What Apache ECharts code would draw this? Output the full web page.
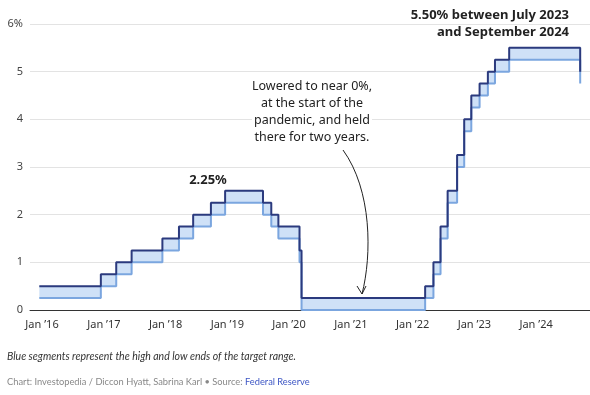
<!DOCTYPE html>
<html>
<head>
<meta charset="utf-8">
<script src="https://cdn.jsdelivr.net/npm/echarts@6/dist/echarts.min.js"></script>
<style>
html,body{margin:0;padding:0;background:#fff;}
#chart{width:590px;height:395px;}
</style>
</head>
<body>
<div id="chart"></div>
<script>
// Dates of Fed target range changes (start date of each range)
const dates = ['2015-12-16','2016-12-14','2017-03-15','2017-06-14','2017-12-13','2018-03-21','2018-06-13','2018-09-26','2018-12-19','2019-07-31','2019-09-18','2019-10-30','2020-03-03','2020-03-15','2022-03-16','2022-05-04','2022-06-15','2022-07-27','2022-09-21','2022-11-02','2022-12-14','2023-02-01','2023-03-22','2023-05-03','2023-07-26','2024-09-18'];
const upper = [0.50,0.75,1.00,1.25,1.50,1.75,2.00,2.25,2.50,2.25,2.00,1.75,1.25,0.25,0.50,1.00,1.75,2.50,3.25,4.00,4.50,4.75,5.00,5.25,5.50,5.00];
const lower = [0.25,0.50,0.75,1.00,1.25,1.50,1.75,2.00,2.25,2.00,1.75,1.50,1.00,0.00,0.25,0.75,1.50,2.25,3.00,3.75,4.25,4.50,4.75,5.00,5.25,4.75];
const yTicks = [0,1,2,3,4,5,6];

function ts(s){const p=s.split('-').map(Number);return Date.UTC(p[0],p[1]-1,p[2]);}
const lowerData = dates.map((d,i)=>[ts(d),lower[i]]);
const upperData = dates.map((d,i)=>[ts(d),upper[i]]);
const diffData = dates.map((d,i)=>[ts(d),+(upper[i]-lower[i]).toFixed(2)]);

const FONT = '"Noto Sans", sans-serif';
const FOOT = 'Lato, "Noto Sans", sans-serif';
const chart = echarts.init(document.getElementById('chart'), null, {renderer:'canvas'});
const xMin = Date.UTC(2015,9,22);
const xMax = Date.UTC(2024,10,15);

function note(text,x,y,font,align){
  return {type:'text',x:x,y:y,z:10,style:{text:text,font:font,fill:'#222',align:align,verticalAlign:'middle',
    backgroundColor:'#fff',padding:[0,2]}};
}

chart.setOption({
  animation:false,
  backgroundColor:'#fff',
  grid:{left:30,right:0,top:24,bottom:85,containLabel:false},
  xAxis:{
    type:'time', min:xMin, max:xMax, splitNumber:9,
    axisLine:{show:true,lineStyle:{color:'#333',width:1}},
    axisTick:{show:false},
    splitLine:{show:false},
    axisLabel:{
      color:'#333', fontFamily:FONT, fontSize:11, margin:9,
      showMinLabel:false, showMaxLabel:false,
      formatter:function(v){
        const d=new Date(v);
        if(d.getUTCMonth()===0 && d.getUTCDate()===1) return 'Jan \u2019'+String(d.getUTCFullYear()).slice(2);
        return '';
      }
    }
  },
  yAxis:{
    type:'value', min:yTicks[0], max:yTicks[yTicks.length-1], interval:1,
    axisLine:{show:false}, axisTick:{show:false},
    splitLine:{lineStyle:{color:'#e3e3e3',width:1}},
    axisLabel:{color:'#444',fontFamily:FONT,fontSize:11,margin:7,
      formatter:function(v){return v===6?'6%':String(v);}}
  },
  series:[
    {name:'base',type:'line',step:'end',stack:'band',data:lowerData,symbol:'none',
     lineStyle:{opacity:0},silent:true,z:1},
    {name:'band',type:'line',step:'end',stack:'band',data:diffData,symbol:'none',
     lineStyle:{opacity:0},areaStyle:{color:'#cfe1f7',opacity:1},silent:true,z:1},
    {name:'Low',type:'line',step:'end',data:lowerData,symbol:'none',
     lineStyle:{color:'#7ba6df',width:2},z:2},
    {name:'High',type:'line',step:'end',data:upperData,symbol:'none',
     lineStyle:{color:'#2b3a7e',width:2},z:3}
  ],
  graphic:[
    note('2.25%',208,180,'bold 13px '+FONT,'center'),
    note('5.50% between July 2023',571,15,'bold 13px '+FONT,'right'),
    note('and September 2024',571,32,'bold 13px '+FONT,'right'),
    note('Lowered to near 0%,',312,86,'12.5px '+FONT,'center'),
    note('at the start of the',312,103,'12.5px '+FONT,'center'),
    note('pandemic, and held',312,120,'12.5px '+FONT,'center'),
    note('there for two years.',312,137,'12.5px '+FONT,'center'),
    {type:'bezierCurve',shape:{x1:343,y1:150,x2:362,y2:294,cpx1:372,cpy1:190,cpx2:372,cpy2:255},
     style:{stroke:'#222',lineWidth:1,fill:null},z:10},
    {type:'polyline',shape:{points:[[357,286],[362,294],[366,286]]},style:{stroke:'#222',lineWidth:1,fill:null},z:10},
    {type:'text',x:7,y:357,style:{text:'Blue segments represent the high and low ends of the target range.',font:'italic 10.5px '+FOOT,fill:'#333',verticalAlign:'middle'}},
    {type:'text',x:7,y:382,style:{
      text:'{g|Chart: Investopedia / Diccon Hyatt, Sabrina Karl \u2022 Source: }{b|Federal Reserve}',
      rich:{g:{fill:'#888',font:'9.3px '+FOOT},b:{fill:'#3d56c4',font:'9.3px '+FOOT}},
      verticalAlign:'middle'}}
  ]
});
</script>
</body>
</html>
